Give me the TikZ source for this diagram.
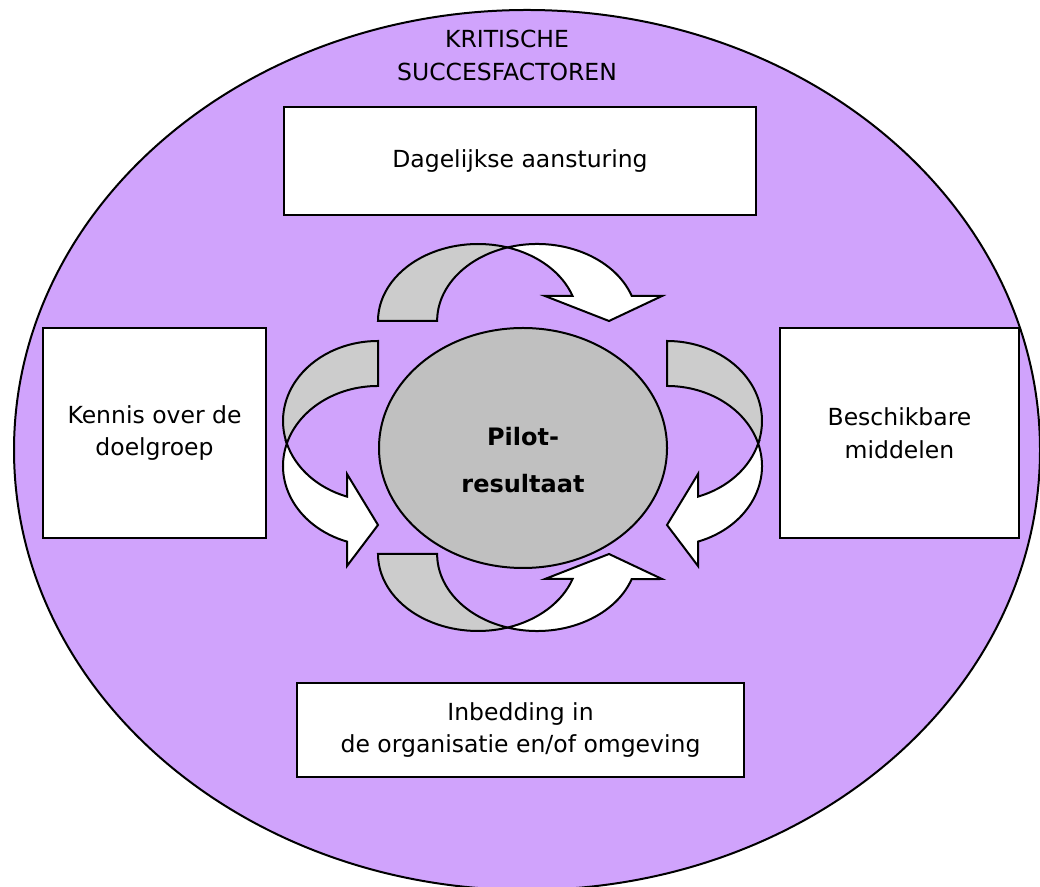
\documentclass[tikz,border=0pt]{standalone}
\usepackage{fontspec}
\setsansfont{DejaVu Sans}
\usetikzlibrary{shapes.geometric}
\definecolor{lilac}{RGB}{208,163,252}
\definecolor{band}{HTML}{CCCCCC}
\definecolor{core}{HTML}{C0C0C0}

\begin{document}
\begin{tikzpicture}[x=1pt,y=1pt,line width=2pt,font=\sffamily\fontsize{23.5}{32.5}\selectfont,
  factor/.style={draw,fill=white,align=center,inner sep=0pt},
  curl/.style={draw,line width=2pt}]
  \useasboundingbox (0,0) rectangle (1040,886);
  \clip (0,0) rectangle (1040,886);
  \node[ellipse,draw,fill=lilac,minimum width=1026pt,minimum height=880pt,inner sep=0pt] (field) at (527,436) {};
  \node[align=center] (title) at (507,830.5) {KRITISCHE\\SUCCESFACTOREN};
  \node[factor,minimum width=472pt,minimum height=108pt] (daily) at (520,725) {Dagelijkse aansturing};
  \node[factor,minimum width=223pt,minimum height=210pt] (know) at (154.5,453) {Kennis over de\\doelgroep};
  \node[factor,minimum width=239pt,minimum height=210pt] (means) at (899.5,453) {Beschikbare\\middelen};
  \node[factor,minimum width=447pt,minimum height=94pt] (embed) at (520.5,156) {Inbedding in\\de organisatie en/of omgeving};
  \node[ellipse,draw,fill=core,minimum width=288pt,minimum height=240pt,inner sep=0pt] (core) at (523,438) {};
  \node[font=\sffamily\bfseries\fontsize{24}{47}\selectfont,align=center] (pilot) at (523,425.5) {Pilot-\\resultaat};
  \foreach \s in {1,-1}{
    \begin{scope}[shift={(522.5,448.5)},yscale=\s]
      \filldraw[curl,fill=band] (-144.5,116.5) arc[start angle=180,end angle=72.8,x radius=100,y radius=77]
        arc[start angle=107.2,end angle=180,x radius=100,y radius=77] -- cycle;
      \filldraw[curl,fill=white] (-14.93,190.07) arc[start angle=107.2,end angle=18.95,x radius=100,y radius=77]
        -- (139.5,141.5) -- (86.5,116.5) -- (22.5,141.5) -- (50.08,141.5)
        arc[start angle=18.95,end angle=72.8,x radius=100,y radius=77] -- cycle;
    \end{scope}
    \begin{scope}[shift={(522.5,448.5)},xscale=\s]
      \filldraw[curl,fill=band] (-144.5,96.5) arc[start angle=90,end angle=196.33,x radius=95,y radius=80]
        arc[start angle=163.67,end angle=90,x radius=95,y radius=80] -- cycle;
      \filldraw[curl,fill=white] (-235.66,-6) arc[start angle=163.67,end angle=250.96,x radius=95,y radius=80]
        -- (-175.5,-128.5) -- (-144.5,-87.5) -- (-175.5,-36.5) -- (-175.5,-59.12)
        arc[start angle=250.96,end angle=196.33,x radius=95,y radius=80] -- cycle;
    \end{scope}
  }
\end{tikzpicture}
\end{document}
